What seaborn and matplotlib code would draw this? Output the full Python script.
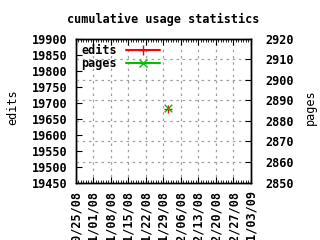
import matplotlib
matplotlib.use("Agg")
import matplotlib.pyplot as plt
import matplotlib.dates as mdates
from matplotlib.lines import Line2D
import seaborn as sns
import pandas as pd

title = "cumulative usage statistics"
dates = ["2008-12-01"]
edits = [19680]
pages = [2886]
x_start, x_end = "2008-10-25", "2009-01-03"
edits_ticks = list(range(19450, 19901, 50))
pages_ticks = list(range(2850, 2921, 10))

df = pd.DataFrame({"date": pd.to_datetime(dates), "edits": edits, "pages": pages})

sns.set_style("ticks")
plt.rcParams['font.family'] = ['DejaVu Sans Mono', 'DejaVu Sans']
plt.rcParams['font.weight'] = 'bold'
for k in ('text.color', 'axes.labelcolor', 'xtick.color', 'ytick.color'):
    plt.rcParams[k] = 'black'
FS = 8.5
plt.rcParams['font.size'] = FS

fig = plt.figure(figsize=(3.2, 2.4), dpi=100)
ax = fig.add_axes([75.5/320, 1-182.5/240, 175.5/320, 144/240])
ax2 = ax.twinx()

sns.scatterplot(data=df, x="date", y="edits", ax=ax, marker="+", color="#ff0000",
                s=40, linewidth=1, zorder=5)
sns.scatterplot(data=df, x="date", y="pages", ax=ax2, marker="x", color="#00c000",
                s=30, linewidth=1, zorder=5)

ax.set_xlim(pd.Timestamp(x_start), pd.Timestamp(x_end))
ax.set_ylim(edits_ticks[0], edits_ticks[-1])
ax2.set_ylim(pages_ticks[0], pages_ticks[-1])
ax.set_yticks(edits_ticks)
ax2.set_yticks(pages_ticks)
ax.set_xticks(pd.date_range(x_start, x_end, freq="7D"))
ax.xaxis.set_major_formatter(mdates.DateFormatter("%m/%d/%y"))
ax.xaxis.set_minor_locator(mdates.DayLocator())

for a in (ax, ax2):
    for s in a.spines.values():
        s.set_visible(True)
        s.set_color("black")
        s.set_linewidth(1)

ax.tick_params(axis="x", which="major", direction="in", length=4, top=True, bottom=True,
               labelrotation=90, labelsize=FS, pad=5.5)
ax.tick_params(axis="x", which="minor", direction="in", length=2, top=True, bottom=True)
ax.tick_params(axis="y", which="major", direction="in", length=4, labelsize=FS, pad=6)
ax2.tick_params(axis="y", which="major", direction="in", length=4, labelsize=FS, pad=10)

grid_kw = dict(color="#a0a0a0", linestyle=(0, (2, 3)), linewidth=0.9)
ax.grid(True, axis="x", which="major", **grid_kw)
ax2.grid(True, axis="y", which="major", **grid_kw)
ax.grid(False, axis="y")

ax.set_xlabel("")
ax.set_ylabel("edits", fontsize=FS)
ax2.set_ylabel("pages", fontsize=FS)
ax.yaxis.set_label_coords(-0.322, 0.52)
ax2.yaxis.set_label_coords(1.30, 0.52)
fig.text(163/320, 1-19/240, title, ha="center", va="center", fontsize=FS, fontweight="bold")

handles = [
    Line2D([], [], color="#ff0000", marker="+", markersize=7, linewidth=1.5, label="edits"),
    Line2D([], [], color="#00c000", marker="x", markersize=6, linewidth=1.5, label="pages"),
]
leg = ax.legend(handles=handles, loc="upper left", frameon=False, markerfirst=False,
                handlelength=2.8, handletextpad=0.8, borderaxespad=0.1, labelspacing=0.0,
                handleheight=0.6,
                prop={"family": "DejaVu Sans Mono", "weight": "bold", "size": FS})
leg.set_zorder(10)

fig.savefig("out.png", dpi=100)
